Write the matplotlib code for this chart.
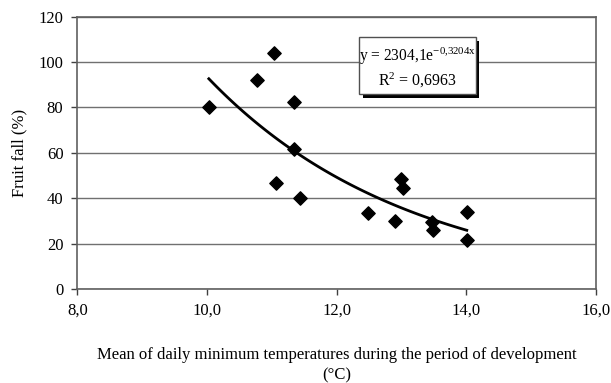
import numpy as np
import matplotlib
matplotlib.use("Agg")
import matplotlib.pyplot as plt
import matplotlib.patheffects as pe
from matplotlib.patches import Rectangle

plt.rcParams['font.family'] = 'Liberation Serif'
plt.rcParams['mathtext.fontset'] = 'custom'
plt.rcParams['mathtext.rm'] = 'Liberation Serif'
plt.rcParams['mathtext.it'] = 'Liberation Serif:italic'

# data
temp = [10.03, 10.78, 11.04, 11.34, 11.34, 11.06, 11.43, 12.48,
        12.90, 13.00, 13.02, 13.47, 13.49, 14.01, 14.01]
fruit_fall = [80.0, 92.1, 103.8, 82.5, 61.7, 46.6, 40.2, 33.6,
              30.1, 48.3, 44.6, 29.6, 26.0, 34.0, 21.6]

# exponential trendline from the chart label
coef_a = 2304.1
coef_b = -0.3204
r2 = 0.6963

x_ticks = [8, 10, 12, 14, 16]
y_ticks = [0, 20, 40, 60, 80, 100, 120]

fig = plt.figure(figsize=(6.11, 3.83), dpi=100)
ax = fig.add_axes([0.1265, 0.2454, 0.8485, 0.7110])

ax.set_xlim(8, 16)
ax.set_ylim(0, 120)
ax.set_xticks(x_ticks)
ax.set_xticklabels([f"{t:.1f}".replace('.', ',') for t in x_ticks])
ax.set_yticks(y_ticks)

ax.grid(axis='y', color='#707070', linewidth=1)
ax.set_axisbelow(True)
for s in ax.spines.values():
    s.set_color('#606060')
    s.set_linewidth(1.2)
ax.tick_params(direction='out', length=4, width=1, color='#404040',
               labelsize=12, pad=6)

ax.scatter(temp, fruit_fall, marker='D', s=46, color='black', zorder=3)

xs = np.linspace(min(temp), max(temp), 100)
ax.plot(xs, coef_a * np.exp(coef_b * xs), color='black', lw=2, zorder=4)

# equation box with drop shadow
box = Rectangle((0.544, 0.716), 0.2245, 0.208, transform=ax.transAxes,
                fc='white', ec='#505050', lw=1, zorder=5)
box.set_path_effects([pe.SimplePatchShadow(offset=(2.5, -2.5), shadow_rgbFace='black', alpha=1),
                      pe.Normal()])
ax.add_patch(box)
eq = "y = 2304,1e$^{\\mathrm{" + f"{coef_b}".replace('.', '{,}') + "x}}$"
ax.text(0.656, 0.855, eq, transform=ax.transAxes, ha='center', va='center',
        fontsize=11.2, zorder=6)
ax.text(0.656, 0.765, "R$^2$ = " + f"{r2}".replace('.', ','), transform=ax.transAxes,
        ha='center', va='center', fontsize=11.5, zorder=6)

ax.set_ylabel('Fruit fall (%)', fontsize=12, labelpad=8)
ax.set_xlabel('Mean of daily minimum temperatures during the period of development\n(°C)',
              fontsize=12, labelpad=20, linespacing=1.4)

fig.savefig('out.png', dpi=100)
